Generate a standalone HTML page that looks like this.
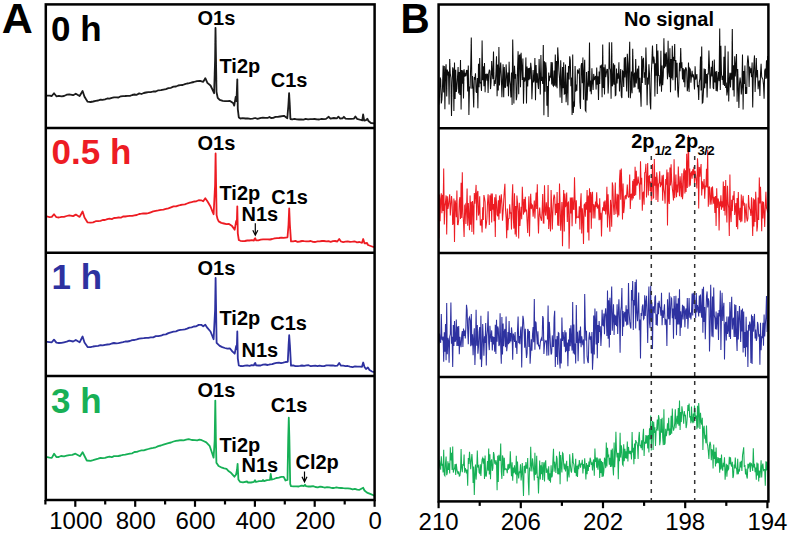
<!DOCTYPE html><html><head><meta charset="utf-8"><style>html,body{margin:0;padding:0;background:#fff;width:789px;height:533px;overflow:hidden}svg{display:block}</style></head><body>
<svg width="789" height="533" viewBox="0 0 789 533" font-family='"Liberation Sans", sans-serif'>
<defs><filter id="bl" x="-5%" y="-5%" width="110%" height="110%"><feGaussianBlur stdDeviation="0.45"/></filter><filter id="bl2" x="-5%" y="-5%" width="110%" height="110%"><feGaussianBlur stdDeviation="0.5"/></filter></defs>
<polyline fill="none" stroke="#1a1a1a" stroke-width="1.8" stroke-linejoin="round" filter="url(#bl)" points="45.5,95.6 47.3,95.6 49.5,95.6 51.8,96.0 54.0,93.3 56.4,96.3 58.9,95.8 61.5,96.3 64.0,96.0 66.7,94.7 69.3,94.4 73.1,95.2 75.8,93.7 79.6,96.0 82.6,91.0 84.5,96.7 87.6,101.7 90.6,102.0 93.1,101.5 95.7,100.9 98.2,100.5 100.5,99.6 102.7,99.8 105.0,99.4 107.3,98.5 109.5,98.6 111.8,97.8 114.0,97.4 116.3,97.4 118.5,97.5 120.8,96.3 123.0,96.1 125.3,96.0 127.6,95.8 129.9,95.8 132.2,95.0 134.5,94.5 136.8,94.8 139.2,93.4 141.5,94.0 143.8,93.0 146.1,92.5 148.4,92.1 150.7,92.2 153.2,91.5 155.8,91.5 158.3,90.3 160.9,90.2 163.4,89.6 165.9,89.1 168.4,88.2 171.0,87.8 173.5,86.6 176.0,86.5 178.2,85.5 180.4,85.1 182.7,85.0 184.9,84.2 187.1,83.5 189.4,83.2 191.6,82.5 193.8,82.0 196.9,81.2 200.0,80.8 203.2,81.9 205.3,78.2 207.4,82.9 210.5,85.5 212.5,89.6 214.1,93.2 215.1,60.0 215.5,27.9 216.0,60.0 216.5,92.0 217.7,97.8 219.7,99.9 222.8,100.9 225.2,101.2 227.6,101.1 230.0,100.9 233.1,103.0 234.2,105.6 235.7,96.8 236.5,101.0 237.3,79.3 237.8,109.2 238.8,117.4 240.4,118.5 242.8,118.2 245.3,118.5 247.8,118.4 250.2,118.8 252.7,118.6 255.1,118.0 257.6,118.8 260.0,118.2 262.7,117.6 265.3,117.8 268.0,117.8 269.5,117.0 271.0,118.0 273.2,117.9 275.5,116.9 277.8,116.9 280.0,116.5 284.0,115.8 287.3,118.2 288.4,105.0 289.1,93.1 289.8,105.0 290.4,119.0 292.2,119.3 294.5,118.8 296.7,119.4 299.0,119.5 301.2,119.3 303.5,119.6 305.7,118.9 308.0,119.3 310.2,119.2 312.5,119.1 314.7,119.0 317.0,119.4 319.2,119.5 321.5,118.9 323.7,119.1 326.0,118.9 328.7,116.8 330.5,118.7 333.8,118.0 337.0,118.3 338.4,116.6 340.0,118.5 342.5,118.3 343.9,116.8 345.5,118.6 348.3,118.8 351.2,118.8 354.0,118.6 355.4,116.5 357.0,118.8 361.0,120.0 362.3,120.4 363.1,114.5 364.2,120.7 366.0,120.2 367.3,118.8 368.5,121.0 371.0,123.0 374.0,123.3"/>
<polyline fill="none" stroke="#ed1c24" stroke-width="1.8" stroke-linejoin="round" filter="url(#bl)" points="45.5,216.5 47.3,216.5 49.5,217.2 51.8,216.9 54.0,214.2 56.4,217.2 58.9,217.5 61.5,216.8 64.0,216.9 66.7,216.0 69.3,215.3 73.1,216.1 75.8,214.6 79.6,216.9 82.6,211.5 84.5,217.5 87.6,222.4 90.6,222.7 93.1,222.4 95.7,221.2 98.2,221.2 100.5,220.8 102.7,220.0 105.0,220.0 107.3,219.2 109.5,218.7 111.8,219.1 114.0,218.0 116.3,217.8 118.5,217.5 120.8,217.7 123.0,216.4 125.3,216.5 127.6,216.1 129.9,215.8 132.2,215.8 134.5,215.3 136.8,215.0 139.2,214.0 141.5,213.7 143.8,213.3 146.1,213.5 148.4,213.2 150.7,212.3 153.2,211.4 155.8,210.9 158.3,210.4 160.9,209.8 163.4,209.6 165.9,208.9 168.4,208.4 171.0,207.4 173.5,206.4 176.0,206.3 178.2,205.6 180.4,205.0 182.7,204.6 184.9,204.4 187.1,203.5 189.4,202.7 191.6,202.2 193.8,201.5 196.3,201.3 198.7,200.2 201.2,200.3 203.2,201.3 205.3,198.2 207.4,201.3 210.5,206.5 212.5,211.6 213.6,214.2 215.1,185.0 215.6,153.5 216.1,185.0 216.6,215.0 217.5,218.9 218.7,221.4 221.3,222.9 223.9,223.5 226.4,224.1 229.0,224.0 232.1,226.1 234.7,229.7 236.2,220.9 236.8,224.0 237.3,206.3 237.8,233.3 238.8,240.0 240.4,240.8 242.7,241.2 244.9,241.0 247.2,240.5 249.5,240.5 251.7,240.1 254.0,240.5 254.6,238.8 255.3,238.3 256.0,240.3 258.3,240.3 260.7,239.6 263.0,239.4 265.3,239.4 267.7,239.3 270.0,239.5 272.3,239.0 274.6,238.4 276.9,238.1 279.1,238.0 281.4,237.6 283.7,237.8 287.5,237.3 288.5,225.0 289.2,208.3 289.9,225.0 291.0,241.4 293.2,241.3 295.4,240.9 297.6,241.8 299.8,241.5 302.0,241.0 304.2,241.2 306.4,241.3 308.6,241.3 310.8,241.0 313.0,241.8 315.3,242.0 317.5,241.4 319.7,241.4 321.9,241.0 324.1,241.0 326.3,241.3 328.5,241.2 330.7,241.8 332.9,241.1 335.1,241.0 337.3,241.5 339.2,239.0 341.0,241.5 343.2,242.1 345.5,241.7 347.8,241.3 350.0,241.8 352.5,241.7 355.0,241.5 357.0,242.3 359.5,242.0 362.0,242.8 363.2,239.0 364.5,243.3 367.0,243.0 368.0,245.0 372.0,246.5 374.0,247.2"/>
<polyline fill="none" stroke="#2e31a0" stroke-width="1.8" stroke-linejoin="round" filter="url(#bl)" points="45.5,341.9 47.3,341.9 49.5,342.1 51.8,342.3 54.0,339.6 56.4,342.6 58.9,343.0 61.5,342.8 64.0,342.3 66.7,341.7 69.3,340.7 73.1,341.5 75.8,340.0 79.6,342.3 82.6,336.5 84.5,342.5 87.6,347.0 90.6,347.2 93.1,346.5 95.7,346.1 98.2,345.8 100.5,345.1 102.7,345.4 105.0,344.8 107.3,344.5 109.5,344.4 111.8,343.5 114.0,343.0 116.3,343.3 118.5,343.1 120.8,342.6 123.0,342.2 125.3,341.5 127.6,341.5 129.9,341.0 132.2,340.1 134.5,340.0 136.8,339.4 139.2,338.7 141.5,338.3 143.8,338.2 146.1,337.8 148.4,337.9 150.7,337.3 153.2,337.3 155.8,336.2 158.3,336.2 160.9,335.7 163.4,334.6 165.9,334.4 168.4,333.1 171.0,332.3 173.5,331.7 176.0,331.3 178.2,330.4 180.4,329.8 182.7,329.6 184.9,329.3 187.1,328.7 189.4,327.7 191.6,327.3 193.8,326.5 196.3,326.3 198.7,324.9 201.2,324.8 203.2,326.3 205.3,324.8 207.4,327.9 210.5,331.5 213.6,339.2 215.1,310.0 215.6,277.9 216.1,310.0 216.6,342.8 219.7,345.9 222.3,347.1 224.9,348.0 227.4,348.7 230.0,348.5 232.3,351.4 234.7,353.7 236.2,345.9 236.8,349.0 237.3,331.5 237.8,358.3 238.8,365.5 240.4,366.0 242.7,366.2 244.9,365.7 247.2,365.3 249.5,365.9 251.7,365.2 254.0,365.3 254.6,363.5 255.3,363.0 256.0,365.3 258.3,365.5 260.7,365.5 263.0,364.7 265.3,364.5 267.7,365.0 270.0,364.3 272.2,364.2 274.4,363.3 276.6,362.9 278.9,362.6 281.1,363.1 283.3,362.7 285.5,362.0 287.8,361.8 288.6,345.0 289.2,335.2 289.9,345.0 291.0,365.7 293.2,365.3 295.4,366.1 297.6,366.2 299.8,365.9 302.0,365.5 304.2,365.8 306.4,365.3 308.6,365.2 310.8,366.2 313.0,365.9 315.3,365.7 317.5,366.2 319.7,365.6 321.9,366.1 324.1,366.1 326.3,365.4 328.5,365.4 330.7,365.5 332.9,365.4 335.1,365.8 337.3,365.7 339.2,363.0 341.0,365.7 343.2,365.7 345.5,366.1 347.8,366.0 350.0,366.6 352.5,367.1 355.0,366.4 357.5,366.6 360.0,366.6 362.0,366.8 363.2,362.5 364.5,367.0 366.0,369.0 367.9,367.5 369.5,370.0 372.0,371.5 374.0,372.2"/>
<polyline fill="none" stroke="#18b056" stroke-width="1.8" stroke-linejoin="round" filter="url(#bl)" points="45.5,457.1 47.3,457.1 49.5,457.6 51.8,457.9 54.1,453.7 56.4,457.1 58.7,457.0 61.0,456.0 64.0,456.3 66.7,455.7 69.3,455.2 72.3,454.9 75.4,453.7 77.7,455.0 80.0,456.3 82.6,452.2 84.5,456.0 86.8,460.5 90.6,460.9 93.1,460.2 95.7,459.4 98.2,458.6 100.5,457.8 102.7,458.1 105.0,457.9 107.3,457.2 109.5,456.6 111.8,457.2 114.0,456.1 116.3,456.1 118.5,456.0 120.8,455.5 123.0,454.9 125.3,454.7 127.6,454.1 129.9,453.6 132.2,453.3 134.5,452.0 136.8,451.9 139.2,451.0 141.5,450.4 143.8,450.4 146.1,449.6 148.4,449.0 150.7,448.4 153.2,447.9 155.8,447.3 158.3,446.1 160.9,445.5 163.4,444.6 165.9,443.8 168.4,443.1 171.0,442.5 173.5,441.5 176.0,440.8 178.5,440.5 181.1,440.1 183.6,440.3 186.2,439.7 188.7,439.1 191.8,440.0 195.0,440.1 197.2,440.3 199.5,439.6 201.8,440.2 204.0,441.3 206.3,442.4 209.6,445.8 211.9,452.5 213.6,457.6 214.7,440.0 215.3,400.6 215.9,440.0 216.4,462.7 218.6,466.0 222.0,467.7 224.2,468.4 226.5,468.9 228.8,471.3 231.0,472.8 234.4,476.7 236.1,474.5 237.0,470.0 237.6,463.8 238.4,479.5 240.0,481.8 243.0,482.4 247.0,481.5 248.0,482.5 251.0,482.5 254.0,481.8 255.0,480.2 256.0,482.0 259.0,481.2 262.0,481.2 263.0,480.0 264.0,481.2 267.0,480.1 270.0,479.8 270.7,474.0 271.6,479.6 274.0,479.0 276.4,478.0 278.9,477.6 281.3,476.9 283.7,476.8 285.5,480.5 287.5,480.0 288.2,440.0 288.8,417.7 289.4,440.0 290.2,484.0 291.0,486.1 293.6,486.3 296.2,486.4 298.8,486.5 301.4,485.6 304.0,486.0 305.0,484.8 306.0,486.1 308.4,486.5 310.7,486.5 313.1,486.1 315.4,487.0 317.8,487.3 320.1,486.6 322.5,487.0 324.8,487.6 327.1,487.1 329.4,487.4 331.8,488.0 334.1,488.0 336.4,487.4 338.7,487.8 341.0,488.0 343.3,488.2 345.6,488.3 347.9,488.3 350.2,488.7 352.6,489.4 354.9,488.8 357.2,489.6 359.5,489.8 363.2,487.8 364.5,490.5 367.0,492.6 370.2,493.9 373.4,495.3 374.3,495.5"/>
<polyline fill="none" stroke="#111" stroke-width="1.05" stroke-linejoin="miter" filter="url(#bl2)" points="438.9,104.8 439.5,96.5 440.1,77.5 440.7,79.7 441.3,103.4 441.9,99.2 442.5,87.1 443.1,65.4 443.7,92.4 444.3,65.9 444.9,109.3 445.5,69.9 446.1,64.3 446.7,96.5 447.3,69.6 447.9,75.3 448.5,71.4 449.1,104.4 449.7,59.0 450.3,74.2 450.9,77.7 451.5,116.0 452.1,84.0 452.7,67.3 453.3,69.1 453.9,111.0 454.5,62.5 455.1,99.0 455.7,69.7 456.3,92.0 456.9,88.0 457.5,77.4 458.1,67.0 458.7,93.6 459.3,71.9 459.9,95.1 460.5,60.0 461.1,109.6 461.7,70.1 462.3,83.8 462.9,70.2 463.5,98.4 464.1,69.2 464.7,76.5 465.3,74.2 465.9,76.1 466.5,70.5 467.1,70.4 467.7,91.4 468.3,65.6 468.9,114.9 469.5,87.1 470.1,87.5 470.7,65.8 471.3,37.4 471.9,88.8 472.5,75.9 473.1,89.1 473.7,107.6 474.3,77.1 474.9,79.6 475.5,73.3 476.1,91.5 476.7,92.7 477.3,78.1 477.9,108.3 478.5,63.8 479.1,87.3 479.7,57.9 480.3,83.6 480.9,82.0 481.5,90.9 482.1,40.6 482.7,80.3 483.3,66.2 483.9,86.3 484.5,63.0 485.1,92.3 485.7,74.5 486.3,74.3 486.9,80.6 487.5,73.8 488.1,92.9 488.7,73.3 489.3,70.2 489.9,71.0 490.5,89.1 491.1,82.4 491.7,61.1 492.3,74.0 492.9,79.1 493.5,51.6 494.1,86.1 494.7,80.3 495.3,83.9 495.9,73.5 496.5,56.2 497.1,96.2 497.7,64.6 498.3,90.6 498.9,47.0 499.5,85.6 500.1,71.2 500.7,62.5 501.3,76.3 501.9,97.3 502.5,81.0 503.1,64.3 503.7,97.2 504.3,67.1 504.9,87.0 505.5,87.2 506.1,64.4 506.7,75.6 507.3,86.4 507.9,72.4 508.5,96.2 509.1,61.7 509.7,80.1 510.3,85.4 510.9,97.4 511.5,72.4 512.1,105.0 512.7,39.5 513.3,71.3 513.9,103.4 514.5,65.7 515.1,78.7 515.7,74.0 516.3,100.3 516.9,95.8 517.5,69.9 518.1,51.3 518.7,94.2 519.3,55.4 519.9,55.0 520.5,87.2 521.1,52.8 521.7,66.6 522.3,80.1 522.9,58.5 523.5,103.8 524.1,77.2 524.7,81.5 525.3,79.3 525.9,57.5 526.5,103.5 527.1,66.5 527.7,86.4 528.3,68.0 528.9,80.3 529.5,67.8 530.1,79.2 530.7,62.7 531.3,68.4 531.9,99.3 532.5,84.0 533.1,69.9 533.7,82.5 534.3,79.6 534.9,58.1 535.5,100.3 536.1,64.9 536.7,82.7 537.3,73.2 537.9,84.0 538.5,89.0 539.1,58.9 539.7,76.8 540.3,94.4 540.9,55.0 541.5,80.8 542.1,76.9 542.7,83.9 543.3,45.1 543.9,115.2 544.5,61.2 545.1,91.8 545.7,62.2 546.3,68.7 546.9,105.7 547.5,86.1 548.1,117.0 548.7,72.6 549.3,81.2 549.9,75.8 550.5,77.5 551.1,62.1 551.7,84.6 552.3,62.3 552.9,85.4 553.5,86.1 554.1,70.5 554.7,85.8 555.3,54.6 555.9,86.8 556.5,60.9 557.1,88.3 557.7,47.4 558.3,57.7 558.9,70.6 559.5,78.5 560.1,97.5 560.7,60.3 561.3,82.2 561.9,103.0 562.5,67.1 563.1,88.2 563.7,62.2 564.3,94.0 564.9,93.6 565.5,64.4 566.1,102.2 566.7,90.7 567.3,72.4 567.9,105.2 568.5,66.0 569.1,79.4 569.7,56.3 570.3,60.0 570.9,86.3 571.5,77.6 572.1,115.1 572.7,54.5 573.3,113.0 573.9,101.6 574.5,106.7 575.1,66.1 575.7,91.7 576.3,84.6 576.9,90.7 577.5,69.6 578.1,71.1 578.7,73.6 579.3,68.3 579.9,102.1 580.5,108.9 581.1,65.9 581.7,63.0 582.3,83.3 582.9,57.4 583.5,99.8 584.1,71.9 584.7,59.8 585.3,110.2 585.9,111.3 586.5,71.9 587.1,100.6 587.7,85.8 588.3,70.9 588.9,86.8 589.5,42.5 590.1,91.4 590.7,80.5 591.3,94.2 591.9,68.3 592.5,82.0 593.1,90.0 593.7,73.9 594.3,80.0 594.9,77.6 595.5,76.0 596.1,89.6 596.7,67.6 597.3,84.8 597.9,76.2 598.5,100.1 599.1,71.4 599.7,84.1 600.3,65.5 600.9,66.8 601.5,65.7 602.1,97.2 602.7,44.6 603.3,88.1 603.9,67.2 604.5,94.6 605.1,64.4 605.7,77.1 606.3,73.3 606.9,69.4 607.5,69.5 608.1,93.4 608.7,81.5 609.3,42.3 609.9,68.1 610.5,70.1 611.1,98.7 611.7,42.3 612.3,86.3 612.9,83.7 613.5,63.2 614.1,84.7 614.7,64.8 615.3,95.6 615.9,95.0 616.5,68.4 617.1,83.5 617.7,73.2 618.3,78.7 618.9,62.2 619.5,91.5 620.1,78.0 620.7,69.0 621.3,96.0 621.9,98.0 622.5,71.0 623.1,71.8 623.7,87.0 624.3,57.5 624.9,77.4 625.5,56.9 626.1,75.2 626.7,91.5 627.3,53.8 627.9,63.9 628.5,97.8 629.1,64.2 629.7,41.7 630.3,98.2 630.9,90.2 631.5,71.4 632.1,93.2 632.7,48.8 633.3,73.2 633.9,87.7 634.5,72.4 635.1,87.2 635.7,59.0 636.3,83.5 636.9,74.7 637.5,68.6 638.1,89.2 638.7,65.8 639.3,92.5 639.9,77.8 640.5,92.4 641.1,106.7 641.7,56.0 642.3,83.1 642.9,59.6 643.5,57.8 644.1,77.7 644.7,72.4 645.3,84.9 645.9,47.5 646.5,67.9 647.1,105.2 647.7,77.4 648.3,84.6 648.9,64.2 649.5,74.1 650.1,101.9 650.7,109.5 651.3,74.4 651.9,60.3 652.5,45.6 653.1,63.8 653.7,56.5 654.3,60.1 654.9,96.6 655.5,63.3 656.1,75.7 656.7,43.9 657.3,93.9 657.9,50.5 658.5,75.3 659.1,75.6 659.7,86.3 660.3,83.0 660.9,50.7 661.5,91.7 662.1,65.4 662.7,85.2 663.3,75.7 663.9,38.3 664.5,68.3 665.1,53.6 665.7,66.7 666.3,52.2 666.9,63.6 667.5,79.3 668.1,40.8 668.7,72.1 669.3,77.1 669.9,48.2 670.5,92.2 671.1,58.9 671.7,78.5 672.3,45.8 672.9,80.3 673.5,56.7 674.1,61.0 674.7,44.1 675.3,90.4 675.9,60.0 676.5,77.6 677.1,62.7 677.7,90.7 678.3,97.5 678.9,81.5 679.5,62.7 680.1,71.3 680.7,48.1 681.3,68.3 681.9,62.3 682.5,79.5 683.1,68.0 683.7,82.3 684.3,69.3 684.9,87.3 685.5,67.9 686.1,68.0 686.7,71.0 687.3,91.2 687.9,87.8 688.5,62.4 689.1,92.0 689.7,68.3 690.3,69.3 690.9,82.8 691.5,76.3 692.1,70.7 692.7,77.3 693.3,74.4 693.9,79.0 694.5,89.5 695.1,66.2 695.7,79.7 696.3,76.8 696.9,74.0 697.5,87.3 698.1,84.9 698.7,100.1 699.3,82.3 699.9,78.6 700.5,56.6 701.1,90.6 701.7,46.6 702.3,103.1 702.9,102.4 703.5,90.5 704.1,68.5 704.7,88.2 705.3,69.1 705.9,83.5 706.5,74.1 707.1,97.6 707.7,73.3 708.3,74.5 708.9,50.5 709.5,66.4 710.1,88.6 710.7,76.3 711.3,66.7 711.9,76.5 712.5,60.7 713.1,87.3 713.7,89.1 714.3,59.5 714.9,82.4 715.5,71.5 716.1,91.1 716.7,71.0 717.3,91.4 717.9,79.3 718.5,72.0 719.1,81.3 719.7,28.6 720.3,90.1 720.9,45.7 721.5,74.0 722.1,80.0 722.7,75.9 723.3,84.9 723.9,56.7 724.5,86.0 725.1,45.8 725.7,87.9 726.3,82.6 726.9,95.4 727.5,91.3 728.1,51.6 728.7,101.6 729.3,80.2 729.9,72.7 730.5,87.4 731.1,72.7 731.7,79.8 732.3,29.0 732.9,90.2 733.5,65.3 734.1,96.6 734.7,56.3 735.3,76.4 735.9,64.9 736.5,54.0 737.1,101.7 737.7,69.0 738.3,87.3 738.9,107.9 739.5,83.5 740.1,77.5 740.7,83.4 741.3,94.5 741.9,86.1 742.5,54.5 743.1,109.5 743.7,70.9 744.3,83.9 744.9,65.5 745.5,93.9 746.1,87.1 746.7,93.9 747.3,63.9 747.9,55.6 748.5,61.2 749.1,87.1 749.7,66.6 750.3,73.3 750.9,68.3 751.5,77.1 752.1,62.4 752.7,107.5 753.3,75.9 753.9,63.9 754.5,55.4 755.1,92.0 755.7,75.7 756.3,58.1 756.9,77.5 757.5,69.9 758.1,89.2 758.7,82.9 759.3,80.5 759.9,95.9 760.5,74.1 761.1,63.8 761.7,76.9 762.3,78.2 762.9,79.3 763.5,84.6 764.1,98.7 764.7,70.8 765.3,68.6 765.9,78.9 766.5,60.3 767.1,78.3 767.7,56.1"/>
<polyline fill="none" stroke="#ed1c24" stroke-width="1.05" stroke-linejoin="miter" filter="url(#bl2)" points="438.9,238.2 439.5,194.6 440.1,221.2 440.7,199.6 441.3,193.2 441.9,213.2 442.5,194.7 443.1,211.0 443.7,168.4 444.3,224.6 444.9,206.1 445.5,202.1 446.1,195.4 446.7,234.5 447.3,196.2 447.9,208.8 448.5,205.7 449.1,199.0 449.7,194.2 450.3,215.4 450.9,205.4 451.5,196.0 452.1,201.9 452.7,224.9 453.3,223.1 453.9,198.5 454.5,242.1 455.1,200.4 455.7,204.0 456.3,217.3 456.9,190.4 457.5,224.6 458.1,224.7 458.7,219.6 459.3,200.8 459.9,197.2 460.5,219.1 461.1,182.7 461.7,217.9 462.3,172.3 462.9,212.0 463.5,222.5 464.1,237.1 464.7,205.6 465.3,204.5 465.9,223.9 466.5,210.3 467.1,188.5 467.7,225.8 468.3,203.0 468.9,216.5 469.5,230.2 470.1,195.4 470.7,224.7 471.3,201.7 471.9,231.9 472.5,201.0 473.1,206.4 473.7,234.6 474.3,193.1 474.9,203.8 475.5,194.8 476.1,184.9 476.7,220.2 477.3,192.8 477.9,190.9 478.5,215.6 479.1,212.7 479.7,196.3 480.3,225.0 480.9,225.1 481.5,219.2 482.1,232.5 482.7,207.3 483.3,220.1 483.9,195.1 484.5,198.0 485.1,201.8 485.7,228.6 486.3,224.8 486.9,219.2 487.5,203.3 488.1,194.2 488.7,205.1 489.3,225.0 489.9,195.2 490.5,211.0 491.1,193.6 491.7,222.6 492.3,193.5 492.9,209.6 493.5,204.1 494.1,221.2 494.7,197.2 495.3,236.9 495.9,194.3 496.5,202.5 497.1,214.7 497.7,216.3 498.3,200.2 498.9,219.7 499.5,195.6 500.1,213.4 500.7,200.9 501.3,194.3 501.9,203.6 502.5,220.7 503.1,212.3 503.7,201.0 504.3,191.0 504.9,183.7 505.5,209.7 506.1,217.6 506.7,238.2 507.3,208.4 507.9,230.1 508.5,218.6 509.1,218.5 509.7,204.2 510.3,213.5 510.9,212.2 511.5,229.5 512.1,199.1 512.7,184.2 513.3,217.9 513.9,228.6 514.5,193.3 515.1,234.4 515.7,205.9 516.3,236.7 516.9,195.5 517.5,202.4 518.1,211.5 518.7,238.6 519.3,202.7 519.9,226.0 520.5,215.0 521.1,206.8 521.7,219.3 522.3,186.8 522.9,202.3 523.5,214.6 524.1,199.0 524.7,212.4 525.3,196.8 525.9,211.5 526.5,209.5 527.1,221.3 527.7,233.0 528.3,212.4 528.9,196.2 529.5,236.6 530.1,209.7 530.7,193.8 531.3,209.1 531.9,204.5 532.5,205.4 533.1,216.7 533.7,209.7 534.3,200.6 534.9,218.6 535.5,205.4 536.1,192.6 536.7,208.9 537.3,184.3 537.9,216.5 538.5,233.6 539.1,215.2 539.7,207.5 540.3,216.3 540.9,218.6 541.5,220.8 542.1,210.9 542.7,194.0 543.3,223.0 543.9,223.1 544.5,185.3 545.1,211.0 545.7,215.8 546.3,202.3 546.9,210.2 547.5,219.4 548.1,185.0 548.7,229.1 549.3,207.3 549.9,219.6 550.5,231.4 551.1,190.1 551.7,207.0 552.3,229.6 552.9,212.4 553.5,198.9 554.1,194.5 554.7,197.3 555.3,215.2 555.9,203.8 556.5,213.0 557.1,192.0 557.7,225.4 558.3,202.9 558.9,226.0 559.5,183.6 560.1,204.6 560.7,230.8 561.3,217.9 561.9,202.1 562.5,246.2 563.1,207.9 563.7,190.0 564.3,231.4 564.9,193.5 565.5,207.0 566.1,204.9 566.7,192.5 567.3,222.0 567.9,203.0 568.5,202.2 569.1,248.7 569.7,222.1 570.3,197.4 570.9,213.6 571.5,197.4 572.1,226.2 572.7,197.4 573.3,208.3 573.9,209.9 574.5,177.2 575.1,200.7 575.7,223.8 576.3,200.3 576.9,217.6 577.5,217.1 578.1,217.0 578.7,217.6 579.3,206.3 579.9,229.5 580.5,202.7 581.1,193.3 581.7,233.4 582.3,208.3 582.9,217.3 583.5,244.0 584.1,205.0 584.7,204.2 585.3,216.8 585.9,202.1 586.5,209.7 587.1,190.1 587.7,232.5 588.3,195.5 588.9,240.4 589.5,188.2 590.1,212.5 590.7,191.9 591.3,228.8 591.9,195.0 592.5,191.8 593.1,218.4 593.7,204.2 594.3,206.0 594.9,218.6 595.5,201.6 596.1,207.1 596.7,192.3 597.3,208.6 597.9,204.7 598.5,205.9 599.1,220.3 599.7,198.2 600.3,219.8 600.9,212.7 601.5,236.6 602.1,214.0 602.7,207.3 603.3,210.7 603.9,201.6 604.5,211.1 605.1,200.4 605.7,214.5 606.3,207.8 606.9,186.7 607.5,227.4 608.1,194.3 608.7,212.3 609.3,218.5 609.9,231.8 610.5,199.9 611.1,207.3 611.7,226.8 612.3,182.4 612.9,185.8 613.5,206.7 614.1,215.0 614.7,201.8 615.3,182.5 615.9,214.2 616.5,207.2 617.1,193.7 617.7,217.3 618.3,194.4 618.9,215.4 619.5,179.7 620.1,169.8 620.7,199.8 621.3,168.5 621.9,188.2 622.5,219.4 623.1,183.6 623.7,213.1 624.3,206.8 624.9,196.3 625.5,195.6 626.1,199.3 626.7,194.3 627.3,184.5 627.9,196.2 628.5,197.3 629.1,196.8 629.7,174.5 630.3,208.9 630.9,194.3 631.5,194.0 632.1,200.4 632.7,180.7 633.3,198.5 633.9,179.1 634.5,196.1 635.1,166.8 635.7,195.3 636.3,170.7 636.9,185.7 637.5,183.9 638.1,176.6 638.7,182.7 639.3,184.3 639.9,199.8 640.5,161.3 641.1,184.5 641.7,177.8 642.3,210.7 642.9,192.7 643.5,192.2 644.1,204.7 644.7,172.8 645.3,172.1 645.9,163.9 646.5,197.4 647.1,178.1 647.7,162.9 648.3,195.5 648.9,176.2 649.5,175.8 650.1,191.0 650.7,181.5 651.3,201.0 651.9,184.7 652.5,164.0 653.1,198.3 653.7,197.6 654.3,159.0 654.9,185.8 655.5,176.8 656.1,199.9 656.7,172.2 657.3,179.6 657.9,202.0 658.5,184.2 659.1,182.6 659.7,171.2 660.3,187.2 660.9,183.3 661.5,184.4 662.1,175.4 662.7,200.7 663.3,174.8 663.9,189.0 664.5,193.1 665.1,203.6 665.7,179.0 666.3,184.7 666.9,169.6 667.5,225.5 668.1,172.2 668.7,200.3 669.3,204.0 669.9,167.6 670.5,185.5 671.1,164.3 671.7,181.4 672.3,188.1 672.9,193.4 673.5,200.5 674.1,159.3 674.7,198.1 675.3,188.4 675.9,174.4 676.5,197.3 677.1,184.6 677.7,192.5 678.3,166.6 678.9,184.3 679.5,196.3 680.1,176.3 680.7,185.1 681.3,197.2 681.9,173.3 682.5,199.3 683.1,192.2 683.7,171.3 684.3,168.5 684.9,193.6 685.5,170.2 686.1,191.9 686.7,153.8 687.3,188.0 687.9,161.5 688.5,135.2 689.1,186.7 689.7,168.6 690.3,185.6 690.9,173.7 691.5,171.3 692.1,178.8 692.7,169.3 693.3,175.2 693.9,166.9 694.5,183.9 695.1,170.9 695.7,176.4 696.3,181.0 696.9,188.5 697.5,158.3 698.1,167.7 698.7,208.6 699.3,167.0 699.9,176.8 700.5,169.5 701.1,164.1 701.7,195.6 702.3,181.3 702.9,189.2 703.5,185.2 704.1,179.0 704.7,198.8 705.3,185.5 705.9,187.2 706.5,168.8 707.1,187.6 707.7,149.8 708.3,206.8 708.9,187.9 709.5,186.4 710.1,204.7 710.7,198.9 711.3,187.2 711.9,204.6 712.5,186.4 713.1,196.2 713.7,203.8 714.3,196.8 714.9,212.9 715.5,196.0 716.1,226.0 716.7,188.2 717.3,208.0 717.9,198.5 718.5,200.0 719.1,230.5 719.7,201.6 720.3,206.5 720.9,195.2 721.5,209.8 722.1,201.4 722.7,207.4 723.3,181.5 723.9,210.9 724.5,186.1 725.1,215.4 725.7,180.0 726.3,204.8 726.9,222.5 727.5,185.7 728.1,202.9 728.7,207.9 729.3,235.9 729.9,174.5 730.5,214.1 731.1,222.1 731.7,199.7 732.3,211.1 732.9,195.5 733.5,200.0 734.1,191.1 734.7,214.9 735.3,208.7 735.9,203.1 736.5,227.1 737.1,198.1 737.7,229.2 738.3,191.9 738.9,211.8 739.5,220.1 740.1,207.7 740.7,222.2 741.3,194.6 741.9,221.6 742.5,202.0 743.1,195.7 743.7,205.7 744.3,202.7 744.9,222.8 745.5,211.4 746.1,203.5 746.7,217.9 747.3,221.5 747.9,218.4 748.5,195.0 749.1,206.0 749.7,209.1 750.3,210.0 750.9,215.9 751.5,197.2 752.1,213.4 752.7,235.9 753.3,198.2 753.9,226.5 754.5,199.5 755.1,222.0 755.7,191.7 756.3,205.0 756.9,231.5 757.5,226.5 758.1,197.6 758.7,219.9 759.3,177.5 759.9,203.4 760.5,186.8 761.1,205.0 761.7,231.2 762.3,201.2 762.9,218.4 763.5,201.8 764.1,210.9 764.7,226.9 765.3,206.3 765.9,191.8 766.5,208.2 767.1,209.6 767.7,212.7"/>
<polyline fill="none" stroke="#2e31a0" stroke-width="1.05" stroke-linejoin="miter" filter="url(#bl2)" points="438.9,343.7 439.5,333.5 440.1,341.2 440.7,342.8 441.3,314.1 441.9,339.3 442.5,339.9 443.1,336.5 443.7,361.7 444.3,332.3 444.9,351.8 445.5,324.0 446.1,360.3 446.7,302.9 447.3,354.2 447.9,337.8 448.5,340.3 449.1,362.7 449.7,336.7 450.3,334.1 450.9,302.5 451.5,343.7 452.1,336.7 452.7,367.0 453.3,325.1 453.9,345.9 454.5,321.0 455.1,341.9 455.7,339.9 456.3,319.4 456.9,346.1 457.5,326.4 458.1,346.1 458.7,326.0 459.3,354.3 459.9,336.7 460.5,344.0 461.1,347.2 461.7,335.3 462.3,331.1 462.9,347.0 463.5,328.6 464.1,336.0 464.7,330.5 465.3,338.4 465.9,327.2 466.5,304.7 467.1,310.0 467.7,330.6 468.3,344.2 468.9,318.8 469.5,317.2 470.1,320.5 470.7,346.2 471.3,313.9 471.9,345.4 472.5,334.3 473.1,355.2 473.7,338.4 474.3,328.3 474.9,365.0 475.5,345.5 476.1,309.8 476.7,345.7 477.3,325.0 477.9,353.8 478.5,346.8 479.1,331.9 479.7,327.1 480.3,359.5 480.9,315.8 481.5,367.0 482.1,354.1 482.7,324.1 483.3,338.5 483.9,355.7 484.5,336.3 485.1,342.9 485.7,323.1 486.3,365.6 486.9,335.7 487.5,330.0 488.1,311.3 488.7,342.8 489.3,350.1 489.9,325.8 490.5,335.8 491.1,342.0 491.7,330.4 492.3,350.5 492.9,336.2 493.5,344.4 494.1,337.0 494.7,351.8 495.3,324.8 495.9,354.0 496.5,319.8 497.1,341.7 497.7,326.4 498.3,328.6 498.9,346.1 499.5,344.5 500.1,313.2 500.7,347.1 501.3,363.8 501.9,317.1 502.5,354.4 503.1,323.6 503.7,346.3 504.3,331.8 504.9,328.9 505.5,347.2 506.1,316.4 506.7,351.2 507.3,345.2 507.9,332.0 508.5,344.2 509.1,320.9 509.7,343.3 510.3,333.1 510.9,341.5 511.5,327.4 512.1,334.0 512.7,359.7 513.3,333.5 513.9,336.5 514.5,342.0 515.1,332.0 515.7,347.7 516.3,340.7 516.9,354.0 517.5,330.7 518.1,316.5 518.7,343.1 519.3,336.0 519.9,344.2 520.5,331.0 521.1,326.6 521.7,367.5 522.3,333.8 522.9,315.8 523.5,319.4 524.1,330.3 524.7,347.7 525.3,328.8 525.9,347.4 526.5,358.0 527.1,353.5 527.7,329.0 528.3,330.3 528.9,346.9 529.5,331.1 530.1,363.8 530.7,352.4 531.3,339.2 531.9,350.8 532.5,334.6 533.1,327.0 533.7,342.3 534.3,298.9 534.9,349.8 535.5,321.6 536.1,322.8 536.7,335.5 537.3,344.5 537.9,331.2 538.5,346.3 539.1,344.7 539.7,349.5 540.3,342.7 540.9,339.6 541.5,338.1 542.1,341.0 542.7,316.1 543.3,318.2 543.9,354.0 544.5,345.3 545.1,340.7 545.7,341.5 546.3,341.0 546.9,355.8 547.5,338.8 548.1,305.4 548.7,355.6 549.3,321.9 549.9,333.4 550.5,345.9 551.1,354.5 551.7,352.8 552.3,335.4 552.9,346.5 553.5,346.5 554.1,317.7 554.7,310.7 555.3,366.9 555.9,339.3 556.5,357.1 557.1,335.9 557.7,364.7 558.3,332.7 558.9,333.3 559.5,359.4 560.1,368.5 560.7,338.6 561.3,363.6 561.9,317.4 562.5,341.0 563.1,332.0 563.7,338.8 564.3,346.7 564.9,330.3 565.5,352.3 566.1,332.3 566.7,351.3 567.3,342.4 567.9,366.3 568.5,339.6 569.1,351.1 569.7,328.3 570.3,346.3 570.9,325.3 571.5,341.4 572.1,350.6 572.7,301.9 573.3,353.6 573.9,324.6 574.5,354.4 575.1,343.6 575.7,363.6 576.3,305.1 576.9,342.9 577.5,331.8 578.1,361.3 578.7,339.7 579.3,330.5 579.9,343.2 580.5,326.5 581.1,347.2 581.7,336.4 582.3,341.4 582.9,345.1 583.5,339.4 584.1,363.8 584.7,294.1 585.3,324.7 585.9,340.6 586.5,330.7 587.1,356.4 587.7,361.1 588.3,363.1 588.9,338.3 589.5,332.4 590.1,339.8 590.7,336.2 591.3,353.6 591.9,331.9 592.5,369.8 593.1,356.3 593.7,315.4 594.3,354.4 594.9,308.6 595.5,320.5 596.1,344.5 596.7,311.3 597.3,358.3 597.9,325.1 598.5,343.0 599.1,321.0 599.7,331.9 600.3,326.2 600.9,345.9 601.5,334.3 602.1,309.7 602.7,325.0 603.3,325.6 603.9,313.5 604.5,334.3 605.1,314.4 605.7,308.4 606.3,317.9 606.9,335.9 607.5,290.4 608.1,338.8 608.7,300.3 609.3,347.4 609.9,297.8 610.5,334.9 611.1,306.8 611.7,286.6 612.3,330.7 612.9,319.2 613.5,304.3 614.1,335.1 614.7,314.6 615.3,325.0 615.9,315.6 616.5,326.3 617.1,304.2 617.7,333.9 618.3,313.4 618.9,299.2 619.5,318.8 620.1,352.7 620.7,311.2 621.3,306.2 621.9,288.0 622.5,336.1 623.1,310.9 623.7,326.7 624.3,313.6 624.9,311.8 625.5,321.6 626.1,305.2 626.7,325.6 627.3,309.2 627.9,324.7 628.5,283.0 629.1,312.2 629.7,321.4 630.3,326.4 630.9,328.5 631.5,289.9 632.1,300.4 632.7,280.9 633.3,329.9 633.9,300.1 634.5,305.5 635.1,282.0 635.7,328.5 636.3,279.4 636.9,312.1 637.5,321.3 638.1,308.9 638.7,292.5 639.3,330.3 639.9,319.6 640.5,358.4 641.1,313.0 641.7,315.9 642.3,306.6 642.9,304.5 643.5,319.3 644.1,318.4 644.7,295.2 645.3,316.1 645.9,301.6 646.5,295.8 647.1,315.5 647.7,343.0 648.3,306.2 648.9,286.4 649.5,322.9 650.1,328.1 650.7,285.7 651.3,321.0 651.9,302.3 652.5,349.1 653.1,306.9 653.7,306.7 654.3,313.2 654.9,297.0 655.5,295.3 656.1,324.9 656.7,314.3 657.3,325.8 657.9,302.8 658.5,314.2 659.1,300.7 659.7,306.6 660.3,308.1 660.9,315.7 661.5,292.7 662.1,325.3 662.7,310.2 663.3,318.0 663.9,310.7 664.5,304.3 665.1,325.1 665.7,319.0 666.3,320.6 666.9,345.9 667.5,299.3 668.1,313.8 668.7,319.3 669.3,292.4 669.9,325.1 670.5,311.8 671.1,297.6 671.7,298.6 672.3,318.2 672.9,308.5 673.5,338.7 674.1,296.1 674.7,312.9 675.3,319.3 675.9,295.7 676.5,335.2 677.1,303.5 677.7,324.4 678.3,298.3 678.9,324.5 679.5,289.3 680.1,335.9 680.7,311.2 681.3,327.6 681.9,316.1 682.5,304.7 683.1,319.4 683.7,305.8 684.3,307.5 684.9,327.2 685.5,310.8 686.1,308.5 686.7,319.0 687.3,298.0 687.9,328.8 688.5,314.2 689.1,298.1 689.7,317.8 690.3,312.5 690.9,319.4 691.5,312.4 692.1,293.5 692.7,315.6 693.3,292.7 693.9,303.9 694.5,294.6 695.1,310.6 695.7,318.0 696.3,293.1 696.9,312.4 697.5,305.0 698.1,308.6 698.7,316.5 699.3,295.4 699.9,312.9 700.5,294.6 701.1,312.0 701.7,317.7 702.3,288.7 702.9,332.7 703.5,286.7 704.1,321.9 704.7,306.9 705.3,339.3 705.9,314.0 706.5,296.3 707.1,291.4 707.7,307.4 708.3,298.3 708.9,301.5 709.5,351.5 710.1,329.9 710.7,284.7 711.3,315.2 711.9,336.6 712.5,296.6 713.1,337.3 713.7,287.4 714.3,315.1 714.9,318.3 715.5,329.2 716.1,311.6 716.7,329.6 717.3,319.6 717.9,312.9 718.5,340.0 719.1,310.0 719.7,316.5 720.3,290.5 720.9,350.1 721.5,312.9 722.1,292.8 722.7,320.9 723.3,309.3 723.9,302.7 724.5,359.4 725.1,325.1 725.7,321.9 726.3,340.4 726.9,316.4 727.5,333.9 728.1,330.4 728.7,316.5 729.3,337.1 729.9,301.9 730.5,339.0 731.1,312.9 731.7,296.7 732.3,329.4 732.9,320.1 733.5,317.7 734.1,337.1 734.7,304.2 735.3,337.1 735.9,305.0 736.5,336.9 737.1,350.9 737.7,311.0 738.3,339.5 738.9,318.7 739.5,306.1 740.1,323.8 740.7,342.1 741.3,309.8 741.9,331.5 742.5,308.5 743.1,352.4 743.7,311.4 744.3,347.9 744.9,332.1 745.5,356.7 746.1,316.7 746.7,347.3 747.3,330.4 747.9,367.0 748.5,324.8 749.1,330.6 749.7,321.6 750.3,324.6 750.9,362.9 751.5,314.6 752.1,364.1 752.7,316.1 753.3,331.6 753.9,322.9 754.5,313.9 755.1,338.4 755.7,329.5 756.3,340.8 756.9,338.0 757.5,321.9 758.1,324.7 758.7,336.6 759.3,334.2 759.9,364.8 760.5,322.7 761.1,350.2 761.7,336.2 762.3,338.2 762.9,322.8 763.5,345.7 764.1,314.6 764.7,336.4 765.3,325.0 765.9,317.4 766.5,295.9 767.1,332.0 767.7,319.9"/>
<polyline fill="none" stroke="#18b056" stroke-width="1.05" stroke-linejoin="miter" filter="url(#bl2)" points="438.9,468.4 439.5,460.0 440.1,465.0 440.7,469.8 441.3,456.3 441.9,465.5 442.5,463.8 443.1,472.4 443.7,449.8 444.3,474.9 444.9,475.8 445.5,463.2 446.1,456.6 446.7,475.2 447.3,472.8 447.9,461.3 448.5,469.9 449.1,463.2 449.7,473.5 450.3,447.2 450.9,460.5 451.5,452.8 452.1,470.1 452.7,446.4 453.3,472.6 453.9,469.2 454.5,468.8 455.1,464.1 455.7,474.9 456.3,463.9 456.9,469.1 457.5,472.0 458.1,474.1 458.7,471.3 459.3,476.1 459.9,475.7 460.5,471.2 461.1,449.0 461.7,468.3 462.3,472.1 462.9,464.0 463.5,465.7 464.1,454.5 464.7,472.7 465.3,468.1 465.9,469.8 466.5,473.4 467.1,469.5 467.7,485.8 468.3,458.1 468.9,464.0 469.5,451.7 470.1,459.0 470.7,469.1 471.3,460.7 471.9,454.0 472.5,462.6 473.1,482.9 473.7,466.6 474.3,494.9 474.9,474.2 475.5,464.5 476.1,479.6 476.7,470.3 477.3,450.4 477.9,467.6 478.5,464.7 479.1,472.5 479.7,473.3 480.3,464.4 480.9,475.9 481.5,466.2 482.1,459.3 482.7,458.0 483.3,463.8 483.9,458.4 484.5,478.9 485.1,455.4 485.7,476.1 486.3,476.2 486.9,469.3 487.5,461.1 488.1,470.7 488.7,448.6 489.3,474.4 489.9,454.2 490.5,479.2 491.1,461.1 491.7,459.4 492.3,470.8 492.9,468.1 493.5,452.0 494.1,454.7 494.7,463.2 495.3,464.0 495.9,460.2 496.5,462.8 497.1,490.2 497.7,455.8 498.3,482.1 498.9,454.8 499.5,459.1 500.1,460.8 500.7,443.5 501.3,471.5 501.9,478.9 502.5,455.4 503.1,458.3 503.7,476.0 504.3,457.7 504.9,470.1 505.5,468.7 506.1,468.7 506.7,469.9 507.3,473.2 507.9,464.3 508.5,469.8 509.1,463.7 509.7,468.4 510.3,451.3 510.9,465.9 511.5,476.2 512.1,462.2 512.7,480.8 513.3,467.4 513.9,473.3 514.5,465.4 515.1,472.0 515.7,474.3 516.3,455.8 516.9,483.5 517.5,461.6 518.1,473.6 518.7,478.4 519.3,471.4 519.9,473.1 520.5,464.2 521.1,480.4 521.7,473.7 522.3,463.0 522.9,479.9 523.5,495.9 524.1,466.6 524.7,466.2 525.3,473.1 525.9,462.1 526.5,468.3 527.1,468.3 527.7,458.1 528.3,481.7 528.9,495.2 529.5,467.5 530.1,471.3 530.7,446.7 531.3,465.7 531.9,471.4 532.5,458.4 533.1,463.3 533.7,470.7 534.3,480.5 534.9,452.7 535.5,474.7 536.1,473.1 536.7,455.7 537.3,477.9 537.9,476.6 538.5,493.4 539.1,476.1 539.7,460.5 540.3,479.5 540.9,465.2 541.5,474.1 542.1,462.0 542.7,479.9 543.3,468.0 543.9,462.2 544.5,481.4 545.1,463.1 545.7,460.3 546.3,472.9 546.9,468.5 547.5,470.9 548.1,479.8 548.7,466.3 549.3,481.0 549.9,473.4 550.5,482.6 551.1,465.2 551.7,477.4 552.3,475.8 552.9,460.3 553.5,448.7 554.1,471.7 554.7,461.7 555.3,465.8 555.9,472.9 556.5,455.8 557.1,458.7 557.7,474.2 558.3,468.3 558.9,474.5 559.5,451.4 560.1,484.3 560.7,455.1 561.3,465.9 561.9,472.5 562.5,452.8 563.1,453.7 563.7,464.6 564.3,469.5 564.9,463.5 565.5,471.4 566.1,465.8 566.7,460.8 567.3,481.5 567.9,466.0 568.5,473.2 569.1,477.5 569.7,454.2 570.3,463.9 570.9,471.0 571.5,472.7 572.1,465.5 572.7,453.0 573.3,462.6 573.9,464.3 574.5,472.2 575.1,472.5 575.7,458.8 576.3,476.3 576.9,465.8 577.5,477.0 578.1,464.6 578.7,469.1 579.3,460.0 579.9,464.7 580.5,467.7 581.1,463.9 581.7,464.2 582.3,459.7 582.9,473.5 583.5,464.1 584.1,468.7 584.7,458.2 585.3,467.5 585.9,479.5 586.5,463.0 587.1,474.3 587.7,464.7 588.3,471.0 588.9,461.5 589.5,466.9 590.1,457.7 590.7,460.0 591.3,465.0 591.9,462.3 592.5,470.5 593.1,461.6 593.7,459.4 594.3,475.8 594.9,448.4 595.5,461.9 596.1,457.5 596.7,467.8 597.3,457.6 597.9,469.6 598.5,461.4 599.1,458.6 599.7,477.9 600.3,458.6 600.9,473.1 601.5,460.9 602.1,477.1 602.7,462.1 603.3,476.4 603.9,470.8 604.5,457.7 605.1,460.8 605.7,468.1 606.3,442.5 606.9,466.6 607.5,447.7 608.1,456.3 608.7,455.5 609.3,464.8 609.9,457.9 610.5,467.0 611.1,449.8 611.7,466.7 612.3,448.6 612.9,466.6 613.5,475.4 614.1,442.5 614.7,467.3 615.3,454.5 615.9,431.8 616.5,451.2 617.1,457.4 617.7,452.9 618.3,479.3 618.9,452.7 619.5,461.2 620.1,432.7 620.7,457.6 621.3,445.4 621.9,449.6 622.5,464.3 623.1,465.4 623.7,444.3 624.3,461.3 624.9,448.9 625.5,458.1 626.1,451.2 626.7,458.7 627.3,441.4 627.9,461.4 628.5,446.9 629.1,453.7 629.7,450.9 630.3,454.2 630.9,450.8 631.5,459.4 632.1,432.1 632.7,452.6 633.3,447.8 633.9,464.2 634.5,443.5 635.1,459.0 635.7,440.1 636.3,441.9 636.9,442.6 637.5,445.9 638.1,459.1 638.7,438.6 639.3,431.9 639.9,445.5 640.5,445.3 641.1,448.1 641.7,440.2 642.3,450.2 642.9,436.5 643.5,428.8 644.1,456.0 644.7,441.7 645.3,443.9 645.9,435.1 646.5,443.4 647.1,435.6 647.7,448.4 648.3,435.1 648.9,452.6 649.5,428.2 650.1,439.4 650.7,415.5 651.3,450.4 651.9,431.2 652.5,421.0 653.1,450.1 653.7,421.7 654.3,433.0 654.9,427.2 655.5,446.0 656.1,431.3 656.7,428.9 657.3,419.5 657.9,430.7 658.5,415.2 659.1,418.4 659.7,445.3 660.3,440.7 660.9,418.9 661.5,432.7 662.1,417.8 662.7,437.4 663.3,445.1 663.9,409.3 664.5,444.7 665.1,443.1 665.7,428.8 666.3,436.1 666.9,432.3 667.5,423.2 668.1,430.8 668.7,417.7 669.3,435.4 669.9,428.5 670.5,434.9 671.1,415.8 671.7,433.8 672.3,408.5 672.9,426.2 673.5,430.7 674.1,428.5 674.7,423.4 675.3,409.3 675.9,428.2 676.5,420.8 677.1,415.8 677.7,424.2 678.3,408.1 678.9,425.8 679.5,400.4 680.1,429.9 680.7,411.9 681.3,422.1 681.9,406.2 682.5,411.4 683.1,415.6 683.7,423.8 684.3,411.0 684.9,415.6 685.5,415.4 686.1,428.1 686.7,424.8 687.3,416.9 687.9,405.1 688.5,411.0 689.1,403.6 689.7,417.5 690.3,416.0 690.9,423.2 691.5,406.4 692.1,421.0 692.7,422.1 693.3,413.5 693.9,422.7 694.5,405.6 695.1,413.9 695.7,419.0 696.3,415.6 696.9,429.3 697.5,405.8 698.1,427.7 698.7,403.0 699.3,413.2 699.9,429.0 700.5,412.8 701.1,421.7 701.7,424.6 702.3,417.7 702.9,450.0 703.5,428.4 704.1,425.8 704.7,437.6 705.3,436.4 705.9,443.2 706.5,425.5 707.1,443.2 707.7,445.5 708.3,451.2 708.9,458.9 709.5,444.9 710.1,441.8 710.7,445.4 711.3,460.2 711.9,449.1 712.5,450.9 713.1,468.5 713.7,444.5 714.3,459.0 714.9,451.8 715.5,466.4 716.1,447.5 716.7,462.9 717.3,462.4 717.9,457.0 718.5,463.3 719.1,458.0 719.7,472.8 720.3,458.1 720.9,469.5 721.5,454.4 722.1,467.8 722.7,470.7 723.3,462.7 723.9,466.6 724.5,457.2 725.1,479.8 725.7,471.3 726.3,463.8 726.9,476.8 727.5,464.9 728.1,469.9 728.7,468.8 729.3,456.8 729.9,464.2 730.5,457.2 731.1,464.9 731.7,466.5 732.3,461.8 732.9,478.1 733.5,475.8 734.1,464.6 734.7,468.5 735.3,457.6 735.9,467.9 736.5,468.2 737.1,474.4 737.7,458.8 738.3,474.3 738.9,469.3 739.5,471.5 740.1,461.7 740.7,467.5 741.3,460.7 741.9,471.0 742.5,455.2 743.1,451.5 743.7,447.2 744.3,466.9 744.9,465.0 745.5,474.4 746.1,468.9 746.7,476.4 747.3,478.6 747.9,463.7 748.5,468.4 749.1,464.1 749.7,463.3 750.3,471.9 750.9,463.3 751.5,463.8 752.1,466.6 752.7,470.9 753.3,448.3 753.9,467.6 754.5,463.8 755.1,472.3 755.7,467.5 756.3,479.7 756.9,462.6 757.5,475.4 758.1,463.4 758.7,481.5 759.3,470.5 759.9,477.7 760.5,470.9 761.1,460.2 761.7,477.4 762.3,465.9 762.9,463.6 763.5,470.4 764.1,469.7 764.7,469.5 765.3,485.7 765.9,461.2 766.5,470.5 767.1,461.7 767.7,469.9"/>
<line x1="651.3" y1="156" x2="651.3" y2="500" stroke="#333" stroke-width="1.5" stroke-dasharray="4 5"/>
<line x1="694.7" y1="156" x2="694.7" y2="500" stroke="#333" stroke-width="1.5" stroke-dasharray="4 5"/>
<rect x="45.8" y="4.4" width="328.8" height="495.6" fill="none" stroke="#000" stroke-width="2.5"/>
<line x1="45.8" y1="128.0" x2="374.6" y2="128.0" stroke="#000" stroke-width="2.5"/>
<line x1="45.8" y1="252.7" x2="374.6" y2="252.7" stroke="#000" stroke-width="2.5"/>
<line x1="45.8" y1="376.0" x2="374.6" y2="376.0" stroke="#000" stroke-width="2.5"/>
<rect x="438.6" y="4.5" width="329.8" height="496.9" fill="none" stroke="#000" stroke-width="2.5"/>
<line x1="438.6" y1="128.3" x2="768.4" y2="128.3" stroke="#000" stroke-width="2.5"/>
<line x1="438.6" y1="252.9" x2="768.4" y2="252.9" stroke="#000" stroke-width="2.5"/>
<line x1="438.6" y1="376.9" x2="768.4" y2="376.9" stroke="#000" stroke-width="2.5"/>
<line x1="374.6" y1="500.0" x2="374.6" y2="506.8" stroke="#000" stroke-width="2.2"/>
<line x1="344.7" y1="500.0" x2="344.7" y2="504.5" stroke="#000" stroke-width="2.2"/>
<line x1="314.7" y1="500.0" x2="314.7" y2="506.8" stroke="#000" stroke-width="2.2"/>
<line x1="284.8" y1="500.0" x2="284.8" y2="504.5" stroke="#000" stroke-width="2.2"/>
<line x1="254.9" y1="500.0" x2="254.9" y2="506.8" stroke="#000" stroke-width="2.2"/>
<line x1="225.0" y1="500.0" x2="225.0" y2="504.5" stroke="#000" stroke-width="2.2"/>
<line x1="195.0" y1="500.0" x2="195.0" y2="506.8" stroke="#000" stroke-width="2.2"/>
<line x1="165.1" y1="500.0" x2="165.1" y2="504.5" stroke="#000" stroke-width="2.2"/>
<line x1="135.2" y1="500.0" x2="135.2" y2="506.8" stroke="#000" stroke-width="2.2"/>
<line x1="105.2" y1="500.0" x2="105.2" y2="504.5" stroke="#000" stroke-width="2.2"/>
<line x1="75.3" y1="500.0" x2="75.3" y2="506.8" stroke="#000" stroke-width="2.2"/>
<line x1="45.4" y1="500.0" x2="45.4" y2="504.5" stroke="#000" stroke-width="2.2"/>
<line x1="438.6" y1="501.4" x2="438.6" y2="508.2" stroke="#000" stroke-width="2.2"/>
<line x1="479.7" y1="501.4" x2="479.7" y2="505.9" stroke="#000" stroke-width="2.2"/>
<line x1="520.8" y1="501.4" x2="520.8" y2="508.2" stroke="#000" stroke-width="2.2"/>
<line x1="561.9" y1="501.4" x2="561.9" y2="505.9" stroke="#000" stroke-width="2.2"/>
<line x1="603.0" y1="501.4" x2="603.0" y2="508.2" stroke="#000" stroke-width="2.2"/>
<line x1="644.1" y1="501.4" x2="644.1" y2="505.9" stroke="#000" stroke-width="2.2"/>
<line x1="685.2" y1="501.4" x2="685.2" y2="508.2" stroke="#000" stroke-width="2.2"/>
<line x1="726.3" y1="501.4" x2="726.3" y2="505.9" stroke="#000" stroke-width="2.2"/>
<line x1="767.4" y1="501.4" x2="767.4" y2="508.2" stroke="#000" stroke-width="2.2"/>
<text x="75.9" y="529" font-size="24" text-anchor="middle">1000</text>
<text x="135.8" y="529" font-size="24" text-anchor="middle">800</text>
<text x="195.6" y="529" font-size="24" text-anchor="middle">600</text>
<text x="255.5" y="529" font-size="24" text-anchor="middle">400</text>
<text x="315.3" y="529" font-size="24" text-anchor="middle">200</text>
<text x="375.2" y="529" font-size="24" text-anchor="middle">0</text>
<text x="438.6" y="530.2" font-size="24" text-anchor="middle">210</text>
<text x="520.8" y="530.2" font-size="24" text-anchor="middle">206</text>
<text x="603.0" y="530.2" font-size="24" text-anchor="middle">202</text>
<text x="685.2" y="530.2" font-size="24" text-anchor="middle">198</text>
<text x="767.4" y="530.2" font-size="24" text-anchor="middle">194</text>
<text x="1.8" y="32.9" font-size="43" font-weight="bold">A</text>
<text transform="translate(400.6,33.1) scale(0.94,1.0)" font-size="43" font-weight="bold">B</text>
<text x="51.0" y="41.0" font-size="35" font-weight="bold" fill="#000" xml:space="preserve">0 h</text>
<text x="51.5" y="163.9" font-size="35" font-weight="bold" fill="#ed1c24" xml:space="preserve">0.5 h</text>
<text x="51.5" y="288.9" font-size="35" font-weight="bold" fill="#2e31a0" xml:space="preserve">1 h</text>
<text x="51.0" y="412.5" font-size="35" font-weight="bold" fill="#18b056" xml:space="preserve">3 h</text>
<text x="197.5" y="24.6" font-size="20" font-weight="bold">O1s</text>
<text x="219.5" y="72.8" font-size="20" font-weight="bold">Ti2p</text>
<text x="270.8" y="87.4" font-size="20" font-weight="bold">C1s</text>
<text x="197.5" y="150.2" font-size="20" font-weight="bold">O1s</text>
<text x="219.5" y="199.8" font-size="20" font-weight="bold">Ti2p</text>
<text x="271.3" y="204.4" font-size="20" font-weight="bold">C1s</text>
<text x="241.5" y="220.7" font-size="20" font-weight="bold">N1s</text>
<text x="197.5" y="275.1" font-size="20" font-weight="bold">O1s</text>
<text x="219.5" y="324.8" font-size="20" font-weight="bold">Ti2p</text>
<text x="270.3" y="330.0" font-size="20" font-weight="bold">C1s</text>
<text x="241.5" y="357.3" font-size="20" font-weight="bold">N1s</text>
<text x="197.5" y="397.2" font-size="20" font-weight="bold">O1s</text>
<text x="219.5" y="452.0" font-size="20" font-weight="bold">Ti2p</text>
<text x="270.8" y="412.0" font-size="20" font-weight="bold">C1s</text>
<text x="241.5" y="471.5" font-size="20" font-weight="bold">N1s</text>
<text x="295.5" y="468.8" font-size="20" font-weight="bold">Cl2p</text>
<text x="624.0" y="25.7" font-size="20" font-weight="bold">No signal</text>
<text x="631.2" y="147.6" font-size="20" font-weight="bold">2p</text>
<text x="674.8" y="147.6" font-size="20" font-weight="bold">2p</text>
<text x="654.6" y="154.6" font-size="13.3" font-weight="bold" letter-spacing="-0.7">1/2</text>
<text x="697.6" y="154.6" font-size="13.3" font-weight="bold" letter-spacing="-0.7">3/2</text>
<line x1="255.3" y1="223.3" x2="255.3" y2="234.2" stroke="#000" stroke-width="1.2"/>
<path d="M252.8 230.2 L255.3 235.2 L257.8 230.2" fill="none" stroke="#000" stroke-width="1.2"/>
<line x1="304.5" y1="471.5" x2="304.5" y2="480.8" stroke="#000" stroke-width="1.2"/>
<path d="M302.0 476.8 L304.5 481.8 L307.0 476.8" fill="none" stroke="#000" stroke-width="1.2"/>
</svg></body></html>
